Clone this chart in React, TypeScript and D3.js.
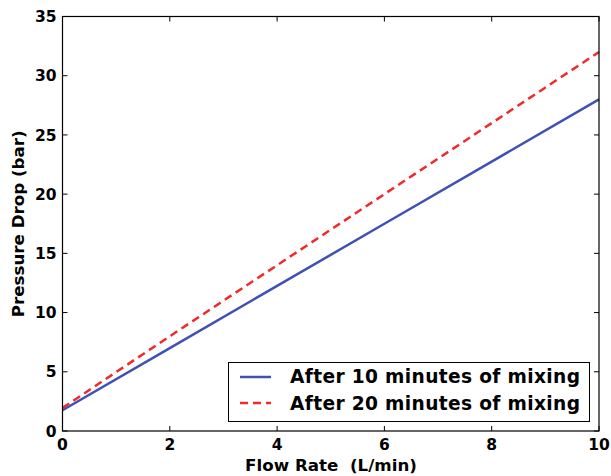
import React from "react";
import * as d3 from "d3";

const flowRate = [0, 2, 4, 6, 8, 10];
const after10 = [1.75, 7.0, 12.25, 17.5, 22.75, 28.0];
const after20 = [1.95, 8.0, 14.0, 20.0, 26.0, 32.0];
const xTicks = [0, 2, 4, 6, 8, 10];
const yTicks = [0, 5, 10, 15, 20, 25, 30, 35];
const seriesNames = ["After 10 minutes of mixing", "After 20 minutes of mixing"];

const W = 611, H = 476;
const left = 62.5, right = 599, top = 16.5, bottom = 431;
const FONT = "'DejaVu Sans', sans-serif";

export default function App() {
  const x = d3.scaleLinear().domain([0, 10]).range([left, right]);
  const y = d3.scaleLinear().domain([0, 35]).range([bottom, top]);
  const line = d3.line<number>().x((_, i) => x(flowRate[i])).y((d) => y(d));
  const series = [
    { name: seriesNames[0], values: after10, color: "#3f51b5", dash: undefined },
    { name: seriesNames[1], values: after20, color: "#f02a2a", dash: "8,5" },
  ];
  return (
    <svg width={W} height={H} style={{ position: "absolute", left: 0, top: 0 }}>
      <rect width={W} height={H} fill="#fff" />
      {series.map((s) => (
        <path key={s.name} d={line(s.values) || ""} fill="none" stroke={s.color} strokeWidth={2.5} strokeDasharray={s.dash} />
      ))}
      <rect x={left} y={top} width={right - left} height={bottom - top} fill="none" stroke="#000" strokeWidth={1.2} />
      {xTicks.map((t) => (
        <g key={"x" + t}>
          <line x1={x(t)} x2={x(t)} y1={bottom} y2={bottom - 5} stroke="#000" />
          <line x1={x(t)} x2={x(t)} y1={top} y2={top + 5} stroke="#000" />
          <text x={x(t)} y={bottom + 19} textAnchor="middle" fontFamily={FONT} fontWeight="bold" fontSize={15.5}>{t}</text>
        </g>
      ))}
      {yTicks.map((t) => (
        <g key={"y" + t}>
          <line x1={left} x2={left + 5} y1={y(t)} y2={y(t)} stroke="#000" />
          <line x1={right} x2={right - 5} y1={y(t)} y2={y(t)} stroke="#000" />
          <text x={left - 6} y={y(t) + 5.7} textAnchor="end" fontFamily={FONT} fontWeight="bold" fontSize={15.5}>{t}</text>
        </g>
      ))}
      <text x={331} y={471} textAnchor="middle" fontFamily={FONT} fontWeight="bold" fontSize={16.7} xmlSpace="preserve">Flow Rate  (L/min)</text>
      <text transform={`translate(23.5,${(top + bottom) / 2}) rotate(-90)`} textAnchor="middle" fontFamily={FONT} fontWeight="bold" fontSize={16.7}>Pressure Drop (bar)</text>
      <rect x={228.5} y={362.5} width={361} height={59} fill="#fff" stroke="#000" strokeWidth={1} />
      {series.map((s, i) => (
        <g key={"lg" + i}>
          <line x1={240} x2={271} y1={377 + i * 26} y2={377 + i * 26} stroke={s.color} strokeWidth={2.5} strokeDasharray={s.dash} />
          <text x={290} y={383 + i * 27} fontFamily={FONT} fontWeight="bold" fontSize={18.6} letterSpacing={0.35}>{s.name}</text>
        </g>
      ))}
    </svg>
  );
}
